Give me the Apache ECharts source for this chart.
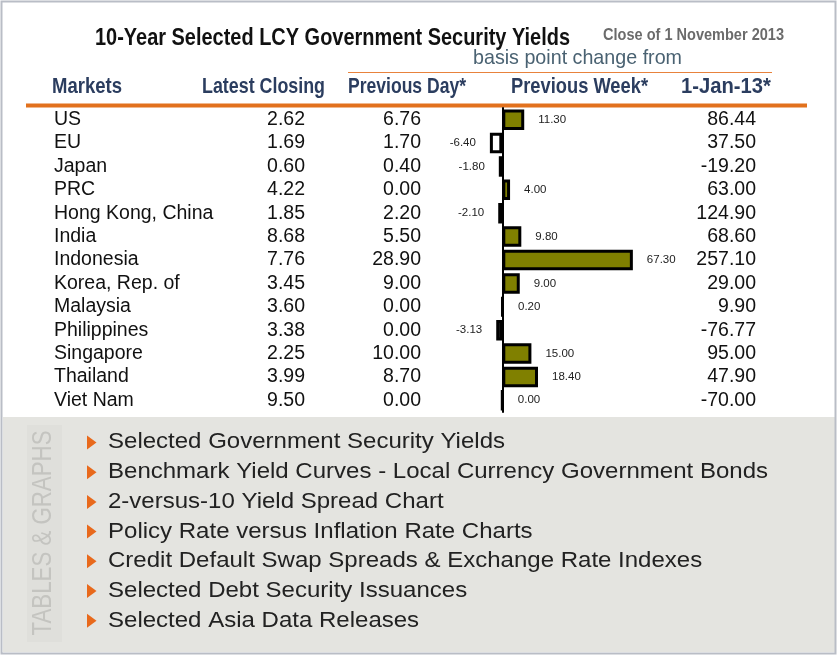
<!DOCTYPE html>
<html>
<head>
<meta charset="utf-8">
<title>10-Year Selected LCY Government Security Yields</title>
<script src="https://cdn.jsdelivr.net/npm/echarts@6/dist/echarts.min.js"></script>
<style>
  html, body { margin: 0; padding: 0; background: #ffffff; }
  #chart { width: 837px; height: 655px; }
</style>
</head>
<body>
<div id="chart"></div>
<script>
// ---- Data -------------------------------------------------------------
const markets = ['US', 'EU', 'Japan', 'PRC', 'Hong Kong, China', 'India', 'Indonesia',
  'Korea, Rep. of', 'Malaysia', 'Philippines', 'Singapore', 'Thailand', 'Viet Nam'];
const latestClosing = [2.62, 1.69, 0.60, 4.22, 1.85, 8.68, 7.76, 3.45, 3.60, 3.38, 2.25, 3.99, 9.50];
const changePrevDay = [6.76, 1.70, 0.40, 0.00, 2.20, 5.50, 28.90, 9.00, 0.00, 0.00, 10.00, 8.70, 0.00];
const changePrevWeek = [11.30, -6.40, -1.80, 4.00, -2.10, 9.80, 67.30, 9.00, 0.20, -3.13, 15.00, 18.40, 0.00];
const changeJan13 = [86.44, 37.50, -19.20, 63.00, 124.90, 68.60, 257.10, 29.00, 9.90, -76.77, 95.00, 47.90, -70.00];

const titleText = '10-Year Selected LCY Government Security Yields';
const dateText = 'Close of 1 November 2013';
const subHeader = 'basis point change from';
const columnHeaders = ['Markets', 'Latest Closing', 'Previous Day*', 'Previous Week*', '1-Jan-13*'];
const sideLabel = 'TABLES & GRAPHS';
const menuItems = [
  'Selected Government Security Yields',
  'Benchmark Yield Curves - Local Currency Government Bonds',
  '2-versus-10 Yield Spread Chart',
  'Policy Rate versus Inflation Rate Charts',
  'Credit Default Swap Spreads & Exchange Rate Indexes',
  'Selected Debt Security Issuances',
  'Selected Asia Data Releases'
];

// ---- Layout -----------------------------------------------------------
const NARROW = "'Liberation Sans Narrow', 'Liberation Sans', Arial, sans-serif";
const SANS = "'Liberation Sans', Arial, sans-serif";
const ORANGE = '#e2711d';

const gridTop = 108, gridHeight = 304;
const zeroX = 502.3, pxPerUnit = 1.94;
const xMin = -12, xMax = 70;
const gridLeft = zeroX + xMin * pxPerUnit;
const gridWidth = (xMax - xMin) * pxPerUnit;
const gridRight = gridLeft + gridWidth;

// column anchors of the table text
const marketsLeft = 54, latestRight = 305, prevDayRight = 421, jan13Right = 756;

const measureCtx = document.createElement('canvas').getContext('2d');
function textWidth(text, font) {
  measureCtx.font = font;
  return measureCtx.measureText(text).width;
}

// text block that starts at `left`, fitted horizontally to `width`
function fittedText(text, left, cy, width, font, color, extra) {
  const w = textWidth(text, font);
  return Object.assign({
    type: 'text',
    x: left, y: cy,
    scaleX: width / w,
    style: { text: text, x: 0, y: 0, font: font, fill: color, align: 'left', verticalAlign: 'middle' },
    silent: true
  }, extra || {});
}

const graphics = [];

// grey panel with the list of tables and graphs
graphics.push({ type: 'rect', shape: { x: 3, y: 417, width: 832, height: 235 },
  style: { fill: '#e4e4e0' }, silent: true, z: 0 });
graphics.push({ type: 'rect', shape: { x: 27, y: 425, width: 35, height: 217 },
  style: { fill: '#dfdfdb' }, silent: true, z: 1 });
{
  const font = '27px ' + NARROW;
  const w = textWidth(sideLabel, font);
  graphics.push({ type: 'text', x: 43.5, y: 533, rotation: Math.PI / 2, scaleX: 205 / w,
    style: { text: sideLabel, x: 0, y: 0, font: font, fill: '#c4c4c0', align: 'center', verticalAlign: 'middle' },
    silent: true, z: 2 });
}
{
  const font = '21.5px ' + SANS;
  const menuScale = 660 / textWidth(menuItems[1], font);
  menuItems.forEach(function (item, i) {
    const cy = 442.5 + i * 29.7;
    graphics.push({ type: 'polygon', shape: { points: [[87, cy - 7], [96.5, cy], [87, cy + 7]] },
      style: { fill: '#e8691c' }, silent: true, z: 2 });
    graphics.push({ type: 'text', x: 108, y: cy, scaleX: menuScale,
      style: { text: item, x: 0, y: 0, font: font, fill: '#222222', align: 'left', verticalAlign: 'middle' },
      silent: true, z: 2 });
  });
}

// titles and column headers
graphics.push(fittedText(titleText, 95, 38, 475, 'bold 24px ' + NARROW, '#111111'));
graphics.push(fittedText(dateText, 603, 35.5, 181, 'bold 17px ' + NARROW, '#6b6b6b'));
graphics.push(fittedText(subHeader, 473, 58.5, 209, '21px ' + NARROW, '#4a6272'));
const headerLeft = [52, 202, 348, 511, 681];
const headerWidth = [70, 123, 118, 137, 90];
columnHeaders.forEach(function (h, i) {
  graphics.push(fittedText(h, headerLeft[i], 86.7, headerWidth[i], 'bold 21.5px ' + NARROW, '#2b3d5f'));
});

// rules
graphics.push({ type: 'line', shape: { x1: 348, y1: 72.5, x2: 772, y2: 72.5 },
  style: { stroke: '#e8823c', lineWidth: 1.2 }, silent: true });
graphics.push({ type: 'line', shape: { x1: 26, y1: 105.5, x2: 807, y2: 105.5 },
  style: { stroke: ORANGE, lineWidth: 4 }, silent: true });

// outer frame
graphics.push({ type: 'rect', shape: { x: 1.5, y: 1.5, width: 834, height: 652 },
  style: { fill: 'none', stroke: '#b9bdc6', lineWidth: 2 }, silent: true, z: 10 });

// ---- Table columns as category axes -----------------------------------
function columnAxis(values, opts) {
  return Object.assign({
    type: 'category',
    data: markets,
    inverse: true,
    axisLine: { show: false, onZero: false },
    axisTick: { show: false },
    splitLine: { show: false },
    axisLabel: {
      interval: 0,
      margin: 0,
      fontSize: 19.5,
      fontFamily: SANS,
      color: '#111111',
      formatter: function (v, idx) { return values ? values[idx].toFixed(2) : v; }
    }
  }, opts);
}

const marketsAxis = columnAxis(null, { position: 'left', offset: gridLeft - marketsLeft });
marketsAxis.axisLabel.align = 'left';
const latestAxis = columnAxis(latestClosing, { position: 'left', offset: gridLeft - latestRight });
const prevDayAxis = columnAxis(changePrevDay, { position: 'left', offset: gridLeft - prevDayRight });
const jan13Axis = columnAxis(changeJan13, { position: 'right', offset: jan13Right - gridRight });
jan13Axis.axisLabel.align = 'right';

const weekBars = changePrevWeek.map(function (v) {
  return {
    value: v,
    itemStyle: { color: v < 0 ? '#ffffff' : '#808000' },
    label: { position: v < 0 ? 'left' : 'right' }
  };
});

const chart = echarts.init(document.getElementById('chart'), null, { renderer: 'canvas' });
chart.setOption({
  backgroundColor: '#ffffff',
  animation: false,
  grid: { left: gridLeft, top: gridTop, width: gridWidth, height: gridHeight,
    containLabel: false, outerBoundsMode: 'none' },
  xAxis: { type: 'value', min: xMin, max: xMax, show: false },
  yAxis: [
    {
      type: 'category',
      data: markets,
      inverse: true,
      position: 'left',
      axisLine: { show: true, onZero: true, lineStyle: { color: '#000000', width: 2 } },
      axisTick: { show: false },
      axisLabel: { show: false },
      splitLine: { show: false }
    },
    marketsAxis,
    latestAxis,
    prevDayAxis,
    jan13Axis
  ],
  series: [{
    type: 'bar',
    xAxisIndex: 0,
    yAxisIndex: 0,
    data: weekBars,
    barWidth: 20.5,
    itemStyle: { borderColor: '#000000', borderWidth: 3 },
    label: {
      show: true,
      distance: 14,
      fontSize: 11.5,
      fontFamily: SANS,
      color: '#222222',
      formatter: function (p) { return Number(p.value).toFixed(2); }
    },
    z: 3
  }],
  graphic: { elements: graphics }
});
</script>
</body>
</html>
